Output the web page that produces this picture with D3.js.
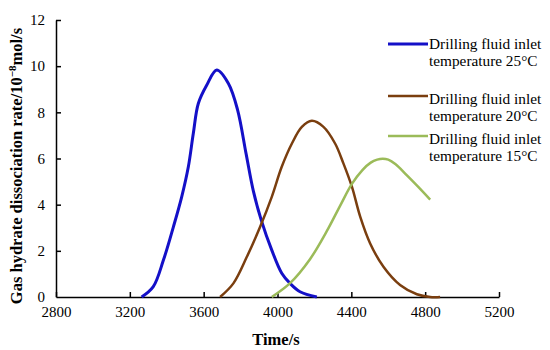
<!DOCTYPE html>
<html>
<head>
<meta charset="utf-8">
<script src="https://cdn.jsdelivr.net/npm/d3@7"></script>
<style>
  body { margin: 0; background: #fff; }
  svg { display: block; }
  text { font-family: "Liberation Serif", "Times New Roman", serif; fill: #000; }
</style>
</head>
<body>
<svg id="chart" width="550" height="350"></svg>
<script>
// values
var xTicks = [2800, 3200, 3600, 4000, 4400, 4800, 5200];
var yTicks = [0, 2, 4, 6, 8, 10, 12];

var t25 = [3264, 3327, 3382, 3436, 3481, 3517, 3544, 3571, 3617, 3671, 3734, 3784, 3830, 3869, 3912, 3969, 4023, 4068, 4122, 4213];
var v25 = [0, 0.45, 1.6, 3.04, 4.34, 5.64, 7.09, 8.38, 9.18, 9.83, 9.25, 8.1, 6.2, 4.6, 3.33, 2.03, 1.03, 0.59, 0.23, 0];

var t20 = [3689, 3761, 3834, 3906, 3969, 4023, 4078, 4132, 4186, 4249, 4312, 4357, 4403, 4448, 4502, 4574, 4664, 4755, 4827, 4881];
var v20 = [0, 0.59, 1.74, 3.04, 4.34, 5.64, 6.65, 7.37, 7.63, 7.37, 6.65, 5.79, 4.78, 3.48, 2.32, 1.31, 0.52, 0.12, 0, 0];

var t15 = [3969, 4068, 4177, 4267, 4339, 4403, 4460, 4505, 4540, 4570, 4600, 4640, 4700, 4760, 4827];
var v15 = [0, 0.6, 1.65, 2.85, 3.95, 4.9, 5.5, 5.82, 5.95, 5.99, 5.95, 5.75, 5.28, 4.79, 4.22];

var names = ["Drilling fluid inlet|temperature 25\u00b0C",
             "Drilling fluid inlet|temperature 20\u00b0C",
             "Drilling fluid inlet|temperature 15\u00b0C"];
var colors = ["#1410c8", "#7a3e0f", "#9bbb59"];

var series = [
  {t: t25, v: v25, name: names[0], color: colors[0], w: 3, ly: 44},
  {t: t20, v: v20, name: names[1], color: colors[1], w: 2.5, ly: 96},
  {t: t15, v: v15, name: names[2], color: colors[2], w: 2.5, ly: 136}
];

var serif = "Liberation Serif, Times New Roman, serif";
var svg = d3.select("#chart");

var x = d3.scaleLinear().domain([2800, 5200]).range([56, 499]);
var y = d3.scaleLinear().domain([0, 12]).range([297, 20]);

// axes, ticks pointing inward
var xAxis = d3.axisBottom(x).tickValues(xTicks).tickFormat(d3.format("d"))
  .tickSizeInner(-5).tickSizeOuter(0).tickPadding(9);
var yAxis = d3.axisLeft(y).tickValues(yTicks).tickFormat(d3.format("d"))
  .tickSizeInner(-5).tickSizeOuter(0).tickPadding(11);

var gx = svg.append("g").attr("transform", "translate(0,297)").call(xAxis);
var gy = svg.append("g").attr("transform", "translate(56,0)").call(yAxis);

[gx, gy].forEach(function(g) {
  g.attr("font-family", serif).attr("font-size", 15);
  g.select(".domain").attr("stroke", "#000").attr("stroke-width", 1.5);
  g.selectAll(".tick line").attr("stroke", "#000").attr("stroke-width", 1.5);
  g.selectAll(".tick text").attr("fill", "#000");
});
gy.selectAll(".tick").filter(function(d) { return d == 0; }).select("line").remove();

// axis titles
svg.append("text")
  .attr("x", 276).attr("y", 345)
  .attr("text-anchor", "middle")
  .attr("font-weight", "bold").attr("font-size", 16.5)
  .text("Time/s");

var yt = svg.append("text")
  .attr("transform", "translate(22,166) rotate(-90)")
  .attr("text-anchor", "middle")
  .attr("font-weight", "bold").attr("font-size", 16.5);
yt.append("tspan").text("Gas hydrate dissociation rate/10");
yt.append("tspan").attr("dy", -6).attr("font-size", 11).text("\u22128");
yt.append("tspan").attr("dy", 6).text("mol/s");

// curves
var line = d3.line()
  .x(function(d) { return x(d[0]); })
  .y(function(d) { return y(d[1]); })
  .curve(d3.curveCatmullRom.alpha(0.5));

series.forEach(function(s) {
  var pts = s.t.map(function(tt, i) { return [tt, s.v[i]]; });
  svg.append("path")
    .datum(pts)
    .attr("d", line)
    .attr("fill", "none")
    .attr("stroke", s.color)
    .attr("stroke-width", s.w)
    .attr("stroke-linejoin", "round");
});

// legend
var leg = svg.append("g").attr("font-family", serif).attr("font-size", 15.3);
series.forEach(function(s, i) {
  leg.append("line")
    .attr("x1", 388).attr("x2", 428)
    .attr("y1", s.ly).attr("y2", s.ly)
    .attr("stroke", s.color).attr("stroke-width", s.w);
  var parts = s.name.split("|");
  var tx = leg.append("text")
    .attr("x", 429).attr("y", s.ly + 5 + (i > 0 ? 3 : 0));
  tx.append("tspan").attr("x", 429).text(parts[0]);
  tx.append("tspan").attr("x", 429).attr("dy", 17).text(parts[1]);
});
</script>
</body>
</html>
